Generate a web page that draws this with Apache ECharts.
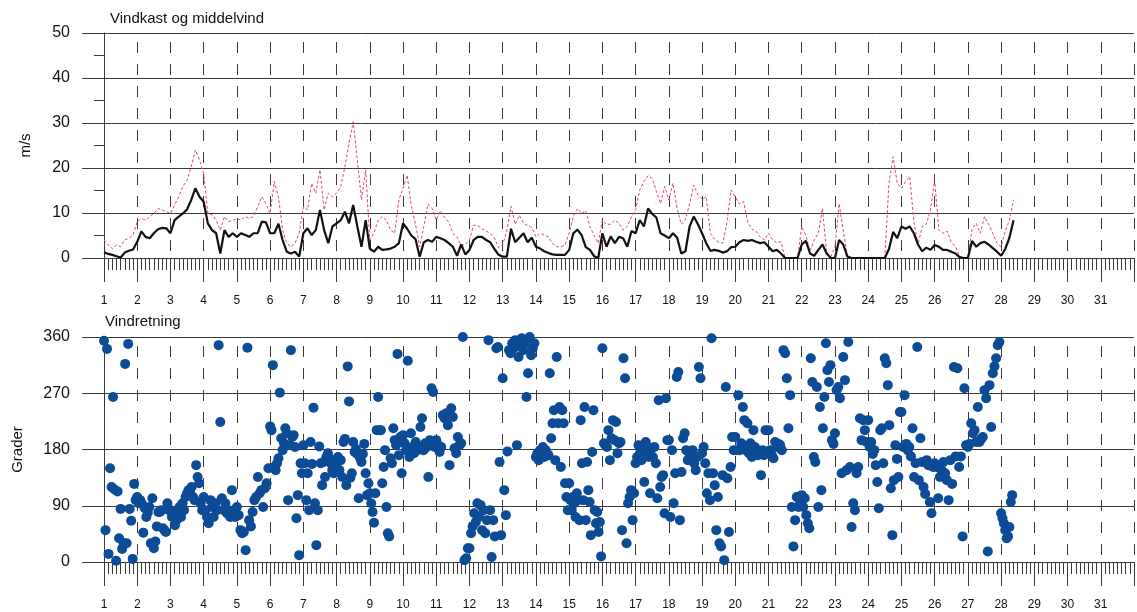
<!DOCTYPE html>
<html><head><meta charset="utf-8">
<script src="https://cdn.jsdelivr.net/npm/echarts@6/dist/echarts.min.js"></script>
<style>html,body{margin:0;padding:0;background:#fff}#c{width:1137px;height:612px}</style>
</head><body><div id="c"></div>
<script>
// Day-of-month axis: first day, last shown label
const firstDay = 1;
const lastDay = 31;
// 3-hourly mean wind (m/s), starting day 1 00:00
const meanWind = [
 1.3,0.9,0.7,0.4,0.1,1.2,1.6,1.9,
 3.6,5.9,4.7,4.4,5.5,6.4,6.7,6.6,
 5.5,8.4,9.2,9.9,10.8,12.9,15.5,13.6,
 12.5,7.7,6.2,5.5,1.0,6.2,4.7,5.5,
 4.7,5.5,5.1,4.7,5.5,5.5,8.1,7.9,
 5.5,5.5,7.6,4.0,1.4,1.0,1.4,0.3,
 5.5,6.6,5.1,6.2,10.7,6.2,3.3,7.0,
 7.7,8.4,10.3,7.7,11.8,7.0,2.5,8.4,
 2.1,1.4,2.5,1.8,1.9,2.1,2.5,3.3,
 7.7,6.5,5.0,4.2,0.3,3.5,4.0,3.6,
 4.7,4.4,4.0,3.3,2.5,0.5,3.0,0.8,
 1.8,4.0,4.7,4.7,4.0,3.5,2.0,0.7,
 0.3,0.3,6.5,3.5,4.5,5.5,3.5,4.5,
 2.5,2.1,1.5,1.1,0.8,0.7,0.7,0.7,
 1.8,5.5,6.3,5.1,2.4,1.8,0.4,0,
 5.5,2.5,4.8,3.3,4.7,4.4,2.5,6.0,
 5.5,8.4,7.0,11.0,9.8,9.0,5.5,5.0,
 4.4,5.5,4.5,1.0,1.5,7.0,9.2,7.5,
 5.5,3.3,1.6,1.8,1.6,1.2,1.5,2.4,
 2.5,3.5,4.0,3.8,4.0,3.6,3.3,3.5,
 2.5,1.5,1.8,1.0,0,0,0,0,
 3.0,3.8,1.0,0.5,1.8,3.0,1.0,0,
 0,4.0,3.0,0.3,0,0,0,0,
 0,0,0,0,0,2.0,5.8,4.4,
 7.0,6.5,7.0,5.5,3.0,1.5,2.3,1.8,
 2.9,2.5,1.8,1.8,1.4,1.0,0.2,0,
 0,3.8,2.5,3.3,3.6,3.0,2.2,1.4,
 0.5,2.0,4.5,8.4
];
// 3-hourly wind gust (m/s)
const gustWind = [
 4.0,2.9,2.1,2.9,2.5,4.0,4.4,5.1,
 8.1,8.8,8.4,9.2,9.9,11.0,10.7,10.3,
 9.9,11.8,13.6,15.9,17.3,20.3,24.0,21.8,
 18.8,9.9,9.6,8.4,6.2,9.2,8.1,8.4,
 8.8,8.4,9.2,8.8,9.2,11.4,13.6,12.1,
 9.9,17.0,13.6,6.2,3.3,2.5,3.3,5.5,
 11.4,10.7,16.6,14.4,19.6,10.7,14.4,13.6,
 14.4,15.9,20.3,25.5,30.3,21.8,12.9,19.6,
 4.0,5.5,8.4,9.2,8.4,6.2,5.5,12.9,
 15.5,18.4,11.5,7.5,2.5,7.0,12.0,11.0,
 8.4,10.5,9.0,8.0,5.5,4.7,2.8,3.0,
 4.0,7.3,7.2,6.5,6.0,5.5,4.5,2.3,
 3.0,6.0,11.5,7.5,9.5,7.7,7.2,6.8,
 4.7,5.5,5.1,4.7,3.2,2.5,2.5,2.9,
 5.5,9.2,11.0,9.9,10.5,7.0,5.0,3.3,
 8.4,7.5,7.5,8.4,7.7,6.2,7.0,9.2,
 10.7,15.1,17.0,18.3,17.7,14.8,12.1,15.9,
 12.9,16.6,11.0,7.5,8.5,12.0,16.2,14.0,
 13.0,13.6,5.5,4.2,3.5,3.3,8.0,15.1,
 13.6,12.0,12.5,8.0,6.4,6.0,4.7,4.0,
 5.5,4.0,3.4,3.6,0,0,0,0,
 7.0,5.0,1.5,4.0,5.5,11.0,1.0,0.3,
 2.5,12.1,6.0,0.5,0,0,0,0,
 0,0,0,0,0,16.6,22.5,16.6,
 15.5,17.0,18.1,8.0,3.0,7.0,7.5,10.7,
 17.3,6.2,5.5,6.0,3.5,2.5,0.3,0,
 0,6.5,7.7,5.5,9.2,7.5,5.5,3.3,
 2.5,6.0,8.4,12.9
];
// Wind direction (degrees), readings per day in time order
const dirDay01 = [354,51,341,13,150,120,264,116,2,113,38,85,21,30,317,30,349,85,66,5,125,99];
const dirDay02 = [104,94,99,94,47,86,72,79,88,30,102,22,33,57,80,80,83,54,51,48,94,83];
const dirDay03 = [83,72,75,59,67,80,88,72,94,83,104,110,115,112,120,104,99,155,136,126,94,83];
const dirDay04 = [104,83,72,62,99,88,72,94,83,347,224,102,83,94,78,83,72,115,75,72];
const dirDay05 = [88,75,51,46,48,19,343,67,57,80,99,104,136,110,115,88,118,126,150];
const dirDay06 = [217,211,315,152,147,158,166,271,198,179,190,214,206,99,187,339,200,203,184,70,107,11,158,142];
const dirDay07 = [187,158,99,142,83,192,157,247,94,27,83,185,158,123,160,136,168,174,166,158,147,142,147];
const dirDay08 = [158,168,147,163,136,192,197,123,313,257,135,142,192,176,181,173,102,166,160,173,189,142,107,126];
const dirDay09 = [110,94,80,63,110,211,264,211,211,126,152,179,88,46,41,166,158,214,195,187,333,171,200,142];
const dirDay10 = [203,190,179,322,168,206,184,174,192,179,184,216,230,179,190,184,136,195,278,272,184];
const dirDay11 = [195,187,176,184,235,230,238,219,155,246,232,182,174,200,187,190,360,3,6,22];
const dirDay12 = [22,46,57,78,64,94,72,91,51,83,46,67,355,83,8,67,41,342,344,160,43];
const dirDay13 = [294,115,75,177,339,334,350,342,355,187,328,347,358,339,350,264,302,360,331,342,350];
const dirDay14 = [168,174,163,179,171,184,168,179,174,171,302,198,222,243,163,328,222,248,152,243,222,126,104,83];
const dirDay15 = [126,99,83,104,94,72,110,99,67,227,158,99,248,67,160,115,96,43,176,243,83,62,80,48,64,9];
const dirDay16 = [342,190,187,184,211,163,198,227,195,224,174,190,192,51,326,294,30,94,104,115,67,110];
const dirDay17 = [158,168,187,174,163,179,128,192,184,168,110,182,168,184,158,102,259,120,136,139,78,262,195];
const dirDay18 = [195,72,179,94,142,296,304,67,144,198,206,179,163,174,163,179,158,147,168,312,294];
const dirDay19 = [174,184,158,110,142,99,358,142,123,51,104,30,25,139,3,280,134,48,152,200,179];
const dirDay20 = [200,179,267,179,190,248,227,179,222,174,190,168,211,184,176,171,174,139,179,171,211,174];
const dirDay21 = [211,179,171,166,192,184,189,187,179,339,334,294,214,267,88,25,67,104,88,96];
const dirDay22 = [107,88,102,75,62,54,326,288,168,160,280,88,248,115,214,264,350,307,288,315,195,189];
const dirDay23 = [206,275,280,262,142,328,291,147,352,152,56,94,83,142,152,230,195,227,211,192];
const dirDay24 = [227,184,192,173,179,155,128,86,211,214,158,326,318,283,219,118,43,131,187,165,136,240];
const dirDay25 = [240,184,267,189,179,184,169,214,136,158,344,131,198,160,120,109,163,155,96,78,152];
const dirDay26 = [158,152,102,136,147,160,142,131,99,163,125,312,169,310,152,169,41,278,187];
const dirDay27 = [184,189,222,206,211,192,248,192,197,200,275,262,17,283,216,302,313,326,347,352];
const dirDay28 = [78,70,62,51,38,41,56,96,107]; // hourly, partial day
const speedTicks = [0,10,20,30,40,50];
const dirTicks = [0,90,180,270,360];

const dirDays = [dirDay01,dirDay02,dirDay03,dirDay04,dirDay05,dirDay06,dirDay07,dirDay08,dirDay09,dirDay10,
 dirDay11,dirDay12,dirDay13,dirDay14,dirDay15,dirDay16,dirDay17,dirDay18,dirDay19,dirDay20,
 dirDay21,dirDay22,dirDay23,dirDay24,dirDay25,dirDay26,dirDay27,dirDay28];

const meanData = meanWind.map((v,i)=>[firstDay + i/8, v]);
const gustData = gustWind.map((v,i)=>[firstDay + i/8, v]);
const dirData = [];
dirDays.forEach((list, k) => {
  const d = firstDay + k;
  const step = (k === dirDays.length - 1) ? 1/24 : 1/list.length;
  list.forEach((v,i)=> dirData.push([d + i*step, v]));
});

const FONT = '"Liberation Sans", Arial, sans-serif';
const AX = '#3a3a3a';
function xAxisCfg(grid){
  return {
    gridIndex: grid, type:'value', min: firstDay, max: lastDay + 1, interval: 1,
    axisLine:{show:true, onZero:false, lineStyle:{color:AX, width:1}},
    axisTick:{show:true, inside:false, length:24, lineStyle:{color:AX, width:1}},
    minorTick:{show:true, splitNumber:8, length:12, lineStyle:{color:AX, width:1}},
    minorSplitLine:{show:false},
    axisLabel:{show:true, margin:37, fontSize:12, color:'#111', fontFamily:FONT,
      formatter: v => (v >= firstDay && v <= lastDay && Math.abs(v-Math.round(v))<1e-6) ? String(Math.round(v)) : ''},
    splitLine:{show:true, lineStyle:{color:AX, width:1, type:[11,11], dashOffset:13}}
  };
}
function yAxisCfg(grid, max, interval, name, gap, minor){
  return {
    gridIndex: grid, type:'value', min:0, max:max, interval:interval, name:name,
    nameLocation:'middle', nameGap:gap, nameRotate:90,
    nameTextStyle:{fontSize:15, color:'#111', fontFamily:FONT},
    axisLine:{show:true, lineStyle:{color:AX, width:1}},
    axisTick:{show:true, inside:false, length:22, lineStyle:{color:AX, width:1}},
    minorTick:{show:minor, splitNumber:2, length:10, lineStyle:{color:AX, width:1}},
    axisLabel:{margin:34, fontSize:16, color:'#111', fontFamily:FONT},
    splitLine:{show:true, lineStyle:{color:AX, width:1}}
  };
}

const chart = echarts.init(document.getElementById('c'), null, {renderer:'canvas'});
chart.setOption({
  animation:false,
  backgroundColor:'#fff',
  textStyle:{fontFamily:FONT},
  title:[
    {text:'Vindkast og middelvind', left:105, top:6, textStyle:{fontSize:15, fontWeight:'normal', color:'#111', fontFamily:FONT}},
    {text:'Vindretning', left:100, top:309, textStyle:{fontSize:15, fontWeight:'normal', color:'#111', fontFamily:FONT}}
  ],
  grid:[
    {left:104, top:33, width:(lastDay+1-firstDay)*33.47, height:225},
    {left:104, top:337, width:(lastDay+1-firstDay)*33.47, height:225}
  ],
  xAxis:[xAxisCfg(0), xAxisCfg(1)],
  yAxis:[yAxisCfg(0, speedTicks[speedTicks.length-1], speedTicks[1]-speedTicks[0], 'm/s', 71, true),
         yAxisCfg(1, dirTicks[dirTicks.length-1], dirTicks[1]-dirTicks[0], 'Grader', 79, false)],
  series:[
    {type:'line', name:'Vindkast', xAxisIndex:0, yAxisIndex:0, data:gustData, showSymbol:false,
     lineStyle:{color:'#e6466f', width:1, type:[3,2]}, z:3},
    {type:'line', name:'Middelvind', xAxisIndex:0, yAxisIndex:0, data:meanData, showSymbol:false,
     lineStyle:{color:'#111', width:2.2}, z:4},
    {type:'scatter', name:'Vindretning', xAxisIndex:1, yAxisIndex:1, data:dirData, symbolSize:10,
     itemStyle:{color:'#0c4b95', opacity:1}, z:3}
  ]
});
</script></body></html>
